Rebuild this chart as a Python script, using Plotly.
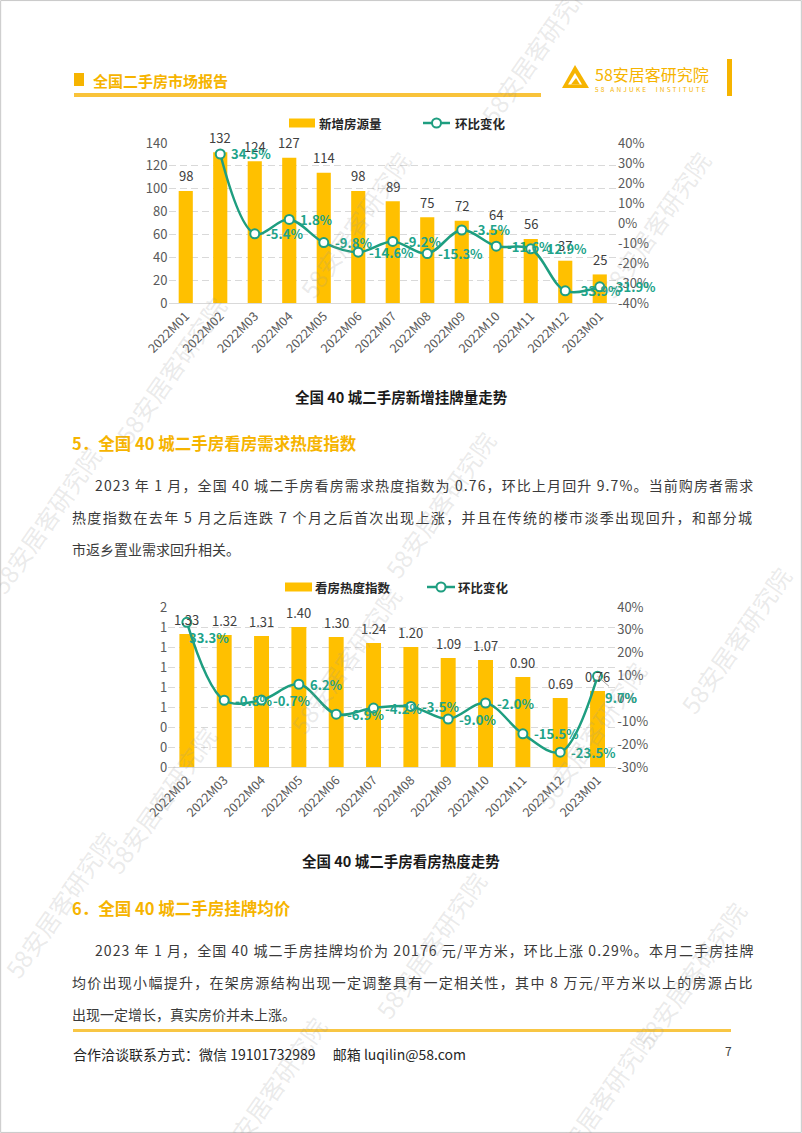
import plotly.graph_objects as go

W, H = 802, 1133
FONT = "Noto Sans CJK SC, Noto Sans, sans-serif"

# ---------------- data ----------------
months_1 = ["2022M01", "2022M02", "2022M03", "2022M04", "2022M05", "2022M06", "2022M07",
            "2022M08", "2022M09", "2022M10", "2022M11", "2022M12", "2023M01"]
new_listings = [98, 132, 124, 127, 114, 98, 89, 75, 72, 64, 56, 37, 25]
new_mom = [None, 34.5, -5.4, 1.8, -9.8, -14.6, -9.2, -15.3, -3.5, -11.6, -12.9, -33.9, -31.9]

months_2 = ["2022M02", "2022M03", "2022M04", "2022M05", "2022M06", "2022M07", "2022M08",
            "2022M09", "2022M10", "2022M11", "2022M12", "2023M01"]
heat_index = [1.33, 1.32, 1.31, 1.40, 1.30, 1.24, 1.20, 1.09, 1.07, 0.90, 0.69, 0.76]
heat_mom = [33.3, -0.8, -0.7, 6.2, -6.9, -4.2, -3.5, -9.0, -2.0, -15.5, -23.5, 9.7]

y1_ticks = [0, 20, 40, 60, 80, 100, 120, 140]
y2_ticks = [-40, -30, -20, -10, 0, 10, 20, 30, 40]
y2_tick_labels = ["-40%", "-30%", "-20%", "-10%", "0%", "10%", "20%", "30%", "40%"]
y3_ticks = [0, 0.2, 0.4, 0.6, 0.8, 1.0, 1.2, 1.4, 1.6]
y3_tick_labels = ["0", "0", "0", "1", "1", "1", "1", "1", "2"]
y4_ticks = [-30, -20, -10, 0, 10, 20, 30, 40]
y4_tick_labels = ["-30%", "-20%", "-10%", "0%", "10%", "20%", "30%", "40%"]

legend_1 = ["新增房源量", "环比变化"]
legend_2 = ["看房热度指数", "环比变化"]
title_1 = "全国 40 城二手房新增挂牌量走势"
title_2 = "全国 40 城二手房看房热度走势"

# ---------------- styles ----------------
GOLD = "#FFC000"
HEAD_GOLD = "#F6B400"
TEAL = "#1E9E80"
LABEL_TEAL = "#20A38A"
AXIS_TXT = "#595959"
GRID = "#D9D9D9"


def fx(p):
    return p / W


def fy(p):
    return 1 - p / H


C1 = dict(l=168.5, r=617, t=143, b=303)
C2 = dict(l=168.2, r=616.2, t=607, b=767)

fig = go.Figure()

# chart 1
fig.add_trace(go.Bar(x=months_1, y=new_listings, xaxis="x", yaxis="y", width=0.41,
                     marker=dict(color=GOLD, line=dict(width=0)), hoverinfo="skip"))
fig.add_trace(go.Scatter(x=months_1, y=new_mom, xaxis="x", yaxis="y2", mode="lines+markers",
                         line=dict(color=TEAL, width=2.5, shape="spline", smoothing=1),
                         marker=dict(symbol="circle", size=9, color="white",
                                     line=dict(color=TEAL, width=2)),
                         connectgaps=False, cliponaxis=False, hoverinfo="skip"))
# chart 2
fig.add_trace(go.Bar(x=months_2, y=heat_index, xaxis="x2", yaxis="y3", width=0.40,
                     marker=dict(color=GOLD, line=dict(width=0)), hoverinfo="skip"))
fig.add_trace(go.Scatter(x=months_2, y=heat_mom, xaxis="x2", yaxis="y4", mode="lines+markers",
                         line=dict(color=TEAL, width=2.5, shape="spline", smoothing=1),
                         marker=dict(symbol="circle", size=9, color="white",
                                     line=dict(color=TEAL, width=2)),
                         cliponaxis=False, hoverinfo="skip"))

tickfont = dict(size=13, color=AXIS_TXT, family=FONT)
xtickfont = dict(size=12.5, color=AXIS_TXT, family=FONT)

ann = []
shapes = []


def text(x, y, s, size, color, anchor="left", bold=False, style=None):
    t = s
    if style:
        t = '<span style="%s">%s</span>' % (style, t)
    if bold:
        t = "<b>" + t + "</b>"
    ann.append(dict(xref="paper", yref="paper", x=fx(x), y=fy(y), text=t, showarrow=False,
                    xanchor=anchor, yanchor="middle",
                    font=dict(size=size, color=color, family=FONT)))


def rect(x0, y0, x1, y1, color):
    shapes.append(dict(type="rect", xref="paper", yref="paper", x0=fx(x0), x1=fx(x1),
                       y0=fy(y1), y1=fy(y0), fillcolor=color, line=dict(width=0), layer="above"))


# data labels
for m, v in zip(months_1, new_listings):
    ann.append(dict(xref="x", yref="y", x=m, y=v, text=str(v), showarrow=False, yshift=15,
                    font=dict(size=13, color="#404040", family=FONT)))
for m, v in zip(months_1, new_mom):
    if v is None:
        continue
    ann.append(dict(xref="x", yref="y2", x=m, y=v, text="<b>%.1f%%</b>" % v, showarrow=False,
                    xanchor="left", xshift=9,
                    font=dict(size=13, color=LABEL_TEAL, family=FONT)))
for m, v in zip(months_2, heat_index):
    ann.append(dict(xref="x2", yref="y3", x=m, y=v, text="%.2f" % v, showarrow=False, yshift=15,
                    font=dict(size=13, color="#404040", family=FONT)))
n2 = len(months_2)
for i, (m, v) in enumerate(zip(months_2, heat_mom)):
    a = dict(xref="x2", yref="y4", x=m, y=v, text="<b>%.1f%%</b>" % v, showarrow=False,
             xanchor="left", xshift=9, font=dict(size=13, color=LABEL_TEAL, family=FONT))
    if i == 0:
        a.update(xshift=0, yshift=-15)
    if i == n2 - 1:
        a.update(showarrow=True, arrowhead=0, arrowwidth=1, arrowcolor="#A6A6A6",
                 ax=24, ay=21, xanchor="center", xshift=0)
    ann.append(a)

# ---------------- header ----------------
rect(74, 73, 84, 86, HEAD_GOLD)
text(91, 80, "全国二手房市场报告", 15, HEAD_GOLD, bold=True)
rect(74, 93, 541, 97, "#F9C33A")
# logo
shapes.append(dict(type="path", xref="paper", yref="paper",
                   path="M%f,%f L%f,%f L%f,%f Z" % (fx(562), fy(88), fx(575), fy(65), fx(589), fy(88)),
                   fillcolor=HEAD_GOLD, line=dict(width=0), layer="above"))
shapes.append(dict(type="path", xref="paper", yref="paper",
                   path="M%f,%f L%f,%f L%f,%f Z" % (fx(568), fy(84.5), fx(575), fy(73), fx(582), fy(84.5)),
                   fillcolor="white", line=dict(width=0), layer="above"))
shapes.append(dict(type="path", xref="paper", yref="paper",
                   path="M%f,%f L%f,%f L%f,%f Z" % (fx(571), fy(84.5), fx(576), fy(78), fx(580), fy(84.5)),
                   fillcolor=HEAD_GOLD, line=dict(width=0), layer="above"))
text(593, 74, "58安居客研究院", 16, HEAD_GOLD)
text(593, 89, '<span style="letter-spacing:2.2px">58 ANJUKE  INSTITUTE</span>', 6.5, HEAD_GOLD)
rect(727, 59, 732, 96, HEAD_GOLD)


# ---------------- legends ----------------
def legend(y, rx0, rx1, tx1, lx0, lx1, tx2, labels):
    rect(rx0, y - 4.5, rx1, y + 4.5, GOLD)
    text(tx1, y, labels[0], 12.5, "#262626", bold=True)
    shapes.append(dict(type="line", xref="paper", yref="paper", x0=fx(lx0), x1=fx(lx1),
                       y0=fy(y), y1=fy(y), line=dict(color=TEAL, width=2.5), layer="above"))
    cx = (lx0 + lx1) / 2
    shapes.append(dict(type="circle", xref="paper", yref="paper", x0=fx(cx - 4.5), x1=fx(cx + 4.5),
                       y0=fy(y + 4.5), y1=fy(y - 4.5), fillcolor="white",
                       line=dict(color=TEAL, width=2), layer="above"))
    text(tx2, y, labels[1], 12.5, "#262626", bold=True)


legend(123, 289, 315, 317, 423, 450, 453, legend_1)
legend(587, 285, 312, 313, 427, 455, 456, legend_2)

text(401, 397, title_1, 14.5, "#1A1A1A", anchor="center", bold=True)
text(401, 860, title_2, 14.5, "#1A1A1A", anchor="center", bold=True)

# ---------------- body text ----------------
BODY = "#3A3A3A"


def est_width(s, size):
    w = 0.0
    for ch in s:
        if ord(ch) > 0x2E80:
            w += size
        elif ch == " ":
            w += 0.224 * size
        elif ch.isdigit():
            w += 0.553 * size
        elif ch == ".":
            w += 0.27 * size
        elif ch == "%":
            w += 0.85 * size
        elif ch == "/":
            w += 0.37 * size
        else:
            w += 0.55 * size
    return w


def para_line(x0, x1, y, s, justify=True, size=14):
    style = None
    if justify:
        sp = (x1 - x0 - est_width(s, size)) / len(s) - 0.04
        style = "letter-spacing:%.2fpx" % sp
    text(x0, y, s, size, BODY, style=style)


text(70, 443, "5．全国 40 城二手房看房需求热度指数", 16.5, HEAD_GOLD, bold=True)
para_line(93, 753, 485, "2023 年 1 月，全国 40 城二手房看房需求热度指数为 0.76，环比上月回升 9.7%。当前购房者需求")
para_line(70, 753, 517, "热度指数在去年 5 月之后连跌 7 个月之后首次出现上涨，并且在传统的楼市淡季出现回升，和部分城")
para_line(70, 0, 549, "市返乡置业需求回升相关。", justify=False)

text(70, 908, "6．全国 40 城二手房挂牌均价", 16.5, HEAD_GOLD, bold=True)
para_line(93, 753, 950, "2023 年 1 月，全国 40 城二手房挂牌均价为 20176 元/平方米，环比上涨 0.29%。本月二手房挂牌")
para_line(70, 753, 982, "均价出现小幅提升，在架房源结构出现一定调整具有一定相关性，其中 8 万元/平方米以上的房源占比")
para_line(70, 0, 1014, "出现一定增长，真实房价并未上涨。", justify=False)

rect(73, 1029, 731, 1032, "#F8C644")
text(71, 1054, "合作洽谈联系方式：微信 19101732989　 邮箱 luqilin@58.com", 14, "#262626")
text(728, 1050, "7", 12, "#404040", anchor="center")

# ---------------- watermarks ----------------
WM = "58安居客研究院"
for (wx, wy) in [(535, 50), (355, 225), (655, 225), (170, 370), (45, 520), (440, 505),
                 (735, 640), (345, 660), (590, 735), (160, 800), (60, 905), (430, 945),
                 (690, 975), (270, 1090), (600, 1100)]:
    ann.append(dict(xref="paper", yref="paper", x=fx(wx), y=fy(wy), text=WM, showarrow=False,
                    textangle=-55, xanchor="center", yanchor="middle",
                    font=dict(size=24, color="rgba(150,150,150,0.2)", family=FONT)))

# page border
shapes.append(dict(type="rect", xref="paper", yref="paper", x0=0.0008, x1=0.9992, y0=0.0005, y1=0.9995,
                   line=dict(color="#C8C8C8", width=1), fillcolor="rgba(0,0,0,0)", layer="above"))

ygrid = dict(showgrid=True, gridcolor=GRID, griddash="7px,4px", gridwidth=1, zeroline=False,
             ticks="", tickfont=tickfont, fixedrange=True, showline=False, automargin=False)
yright = dict(showgrid=False, zeroline=False, ticks="", tickfont=tickfont, fixedrange=True,
              automargin=False)
xcat = dict(type="category", tickangle=-45, showline=True, linecolor=GRID, linewidth=1, ticks="",
            showgrid=False, tickfont=xtickfont, fixedrange=True, automargin=False)
fig.update_layout(
    width=W, height=H, margin=dict(l=0, r=0, t=0, b=0, autoexpand=False),
    paper_bgcolor="white", plot_bgcolor="rgba(0,0,0,0)",
    showlegend=False, font=dict(family=FONT),
    xaxis=dict(domain=[fx(C1["l"]), fx(C1["r"])], anchor="y", range=[-0.5, 12.5], **xcat),
    yaxis=dict(domain=[fy(C1["b"]), fy(C1["t"])], anchor="x", range=[0, 140], tickvals=y1_ticks, **ygrid),
    yaxis2=dict(overlaying="y", side="right", anchor="x", range=[-40, 40], tickvals=y2_ticks,
                ticktext=y2_tick_labels, **yright),
    xaxis2=dict(domain=[fx(C2["l"]), fx(C2["r"])], anchor="y3", range=[-0.5, 11.5], **xcat),
    yaxis3=dict(domain=[fy(C2["b"]), fy(C2["t"])], anchor="x2", range=[0, 1.6], tickvals=y3_ticks,
                ticktext=y3_tick_labels, **ygrid),
    yaxis4=dict(overlaying="y3", side="right", anchor="x2", range=[-30, 40], tickvals=y4_ticks,
                ticktext=y4_tick_labels, **yright),
    annotations=ann, shapes=shapes,
)

fig.write_html("out.html", config={"displayModeBar": False, "staticPlot": True})
